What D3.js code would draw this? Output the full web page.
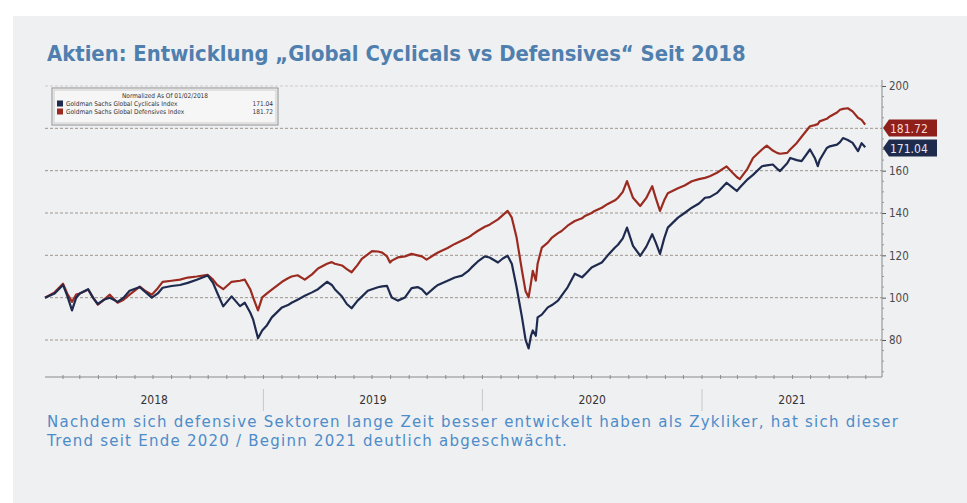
<!DOCTYPE html>
<html><head><meta charset="utf-8">
<script src="https://cdn.jsdelivr.net/npm/d3@7"></script>
<style>
html,body{margin:0;padding:0;background:#fff;}
svg{display:block;}
</style></head>
<body>
<svg id="chart" width="967" height="503"></svg>
<script>
const titleText = "Aktien: Entwicklung „Global Cyclicals vs Defensives“ Seit 2018";
const captionLines = [
  "Nachdem sich defensive Sektoren lange Zeit besser entwickelt haben als Zykliker, hat sich dieser",
  "Trend seit Ende 2020 / Beginn 2021 deutlich abgeschwächt."
];
const legendHeader = "Normalized As Of 01/02/2018";
const seriesNames = ["Goldman Sachs Global Cyclicals Index", "Goldman Sachs Global Defensives Index"];
const lastValues = ["171.04", "181.72"];
const gridTicks = [80, 100, 120, 140, 160, 180, 200];
const labelTicks = [80, 100, 120, 140, 160, 200];
const yearLabels = ["2018", "2019", "2020", "2021"];

const dates = [
"2018-01-02","2018-01-18","2018-02-01","2018-02-08","2018-02-16","2018-02-23","2018-03-01","2018-03-15","2018-03-23","2018-03-31",
"2018-04-10","2018-04-20","2018-05-03","2018-05-13","2018-05-23","2018-06-09","2018-06-19","2018-06-29","2018-07-09","2018-07-17",
"2018-08-01","2018-08-15","2018-08-28","2018-09-12","2018-09-30","2018-10-09","2018-10-16","2018-10-26","2018-11-09","2018-11-23",
"2018-12-01","2018-12-10","2018-12-15","2018-12-23","2018-12-30","2019-01-07","2019-01-15","2019-02-01","2019-02-11","2019-02-17",
"2019-02-27","2019-03-11","2019-03-23","2019-04-02","2019-04-17","2019-04-25","2019-04-30","2019-05-12","2019-05-20","2019-05-28",
"2019-06-07","2019-06-14","2019-06-24","2019-07-01","2019-07-11","2019-07-18","2019-07-26","2019-07-31","2019-08-03","2019-08-13",
"2019-08-25","2019-09-05","2019-09-15","2019-09-22","2019-09-30","2019-10-14","2019-10-19","2019-11-04","2019-11-16","2019-11-28",
"2019-12-08","2019-12-14","2019-12-24","2020-01-05","2020-01-13","2020-01-27","2020-02-04","2020-02-12","2020-02-19","2020-02-27",
"2020-03-07","2020-03-13","2020-03-18","2020-03-22","2020-03-25","2020-03-30","2020-04-02","2020-04-09","2020-04-19","2020-04-26",
"2020-05-06","2020-05-12","2020-05-22","2020-06-03","2020-06-15","2020-06-20","2020-07-01","2020-07-06","2020-07-18","2020-07-28",
"2020-08-09","2020-08-14","2020-08-22","2020-08-29","2020-09-08","2020-09-20","2020-09-30","2020-10-10","2020-10-16","2020-10-23",
"2020-10-30","2020-11-05","2020-11-22","2020-12-03","2020-12-15","2020-12-27","2021-01-06","2021-01-14","2021-01-26","2021-02-11",
"2021-02-21","2021-02-28","2021-03-05","2021-03-18","2021-03-27","2021-04-11","2021-04-19","2021-04-29","2021-05-06","2021-05-11",
"2021-05-23","2021-05-28","2021-06-08","2021-06-16","2021-06-30","2021-07-08","2021-07-13","2021-07-16","2021-07-28","2021-08-02",
"2021-08-14","2021-08-19","2021-08-24","2021-09-01","2021-09-09","2021-09-18","2021-09-24","2021-09-30"
];

const cyclicals = [
100,102,106,101,94,100,102,104,100,97,
99,100,98,100,103.3,105,102.5,100,102,104.7,
105.5,106,107,108.5,110.5,107,102.3,95.9,100.6,96,
97.6,93,89.6,80.8,84.5,87,90.7,95.4,96.5,97.6,
99,100.9,102.5,104,107.5,106,104,100.5,97,95,
98.6,100.5,103.3,104,104.9,105.3,105.6,102,100.1,98.6,
100.1,104.5,105,104,101.5,105,106,108,109.5,110.4,
112.5,114.3,117,119.5,119,116.6,118.5,119.8,116,104.9,
90.7,80,76,82,84.5,82,90.7,92,95.4,96.5,
98.6,101,104.9,111.3,109.6,111,114.3,115,116.6,120,
123.7,125,128,133.1,124.5,119.8,124,130,126,120.7,
128,133.1,137.8,140,142.5,144.5,147.2,147.5,149.5,154.3,
152,150.4,152,155.9,158,162.1,162.5,162.9,161,159.8,
163.5,166,165,164.5,170,166,162.1,165,170.7,171.5,
172.3,173.5,175.4,174.5,173.1,169.2,173,171.04
];

const defensives = [
100,102.5,106.6,102,98,101.5,102,103.8,100,96.7,
99,101.4,97.6,99,101.4,105.2,103,101.4,104.5,107.5,
108,108.5,109.5,110,110.8,108.5,106,104,107.5,108,
108.5,104,100,94,100.1,102,103.8,107.5,109.2,110,
110.6,108.5,111,113.8,116,116.8,116,115.2,113.5,112,
115.5,118.3,120.5,122,121.8,121.3,119.5,116.6,117.5,119,
119.5,120.7,120,119.5,118,120.5,121.3,123.5,125.4,127,
128.4,129.5,131.5,133.5,134.5,137,139,141,137.8,128.4,
112.7,103,100.2,107,112.7,108,116,123.6,126,128.4,
130.5,131.5,134,136.2,137.5,138.6,140,141,142.5,144.3,
146,147.2,150,155.1,147.2,143.3,147,152.7,147,141,
146,149.3,151.7,153,155,156,156.6,157.4,159,162,
159,157,156,161,166,170,171.8,169.5,168.4,168,
168.4,170,173.1,176,181,181.5,182,183.3,184.5,185.6,
187.5,188.8,189.2,189.5,188,185,184,181.72
];

const W = 967, H = 503;
const svg = d3.select("#chart");
const parse = d3.timeParse("%Y-%m-%d");
const dts = dates.map(parse);

// panel
svg.append("rect").attr("x", 0).attr("y", 0).attr("width", W).attr("height", H).attr("fill", "#ffffff");
svg.append("rect").attr("x", 13).attr("y", 16).attr("width", W - 13).attr("height", H - 16).attr("fill", "#eff0f2");

// title
const title = svg.append("text").attr("x", 47).attr("y", 61)
  .attr("font-family", "'DejaVu Sans Condensed','Liberation Sans Narrow',sans-serif")
  .attr("font-weight", "bold").attr("font-size", 21).attr("fill", "#4f7fae").text(titleText);
(function fit(){ const w = title.node().getComputedTextLength(); title.attr("font-size", 21 * 699 / w); })();

// scales
const plotL = 45, plotR = 882, plotT = 80, plotB = 377;
const x = d3.scaleTime().domain([parse("2018-01-02"), parse("2021-10-28")]).range([plotL, plotR]);
const y = d3.scaleLinear().domain([80, 200]).range([340, 86]);

// gridlines
svg.append("g").selectAll("line").data(gridTicks).join("line")
  .attr("x1", plotL).attr("x2", plotR)
  .attr("y1", d => y(d)).attr("y2", d => y(d))
  .attr("stroke", d => d === 200 ? "#cfcac7" : "#a0958f")
  .attr("stroke-width", 1)
  .attr("stroke-dasharray", "3,2");

// right axis
const yAxis = d3.axisRight(y).tickValues(labelTicks).tickSize(4).tickPadding(3).tickFormat(d3.format("d"));
const ya = svg.append("g").attr("transform", `translate(${plotR},0)`).call(yAxis);
ya.select(".domain").remove();
ya.selectAll("text").attr("font-family", "'DejaVu Sans Condensed','Liberation Sans',sans-serif").attr("font-size", 11.5).attr("fill", "#4a4a4a");
ya.selectAll("line").attr("stroke", "#555");
svg.append("line").attr("x1", plotR).attr("x2", plotR).attr("y1", plotT).attr("y2", plotB).attr("stroke", "#8a8a8a");
const minor = d3.range(65, 201, 5).filter(v => v % 20 !== 0);
svg.append("g").selectAll("line").data(minor).join("line")
  .attr("x1", plotR).attr("x2", plotR + 2).attr("y1", d => y(d)).attr("y2", d => y(d)).attr("stroke", "#999");

// bottom axis
svg.append("line").attr("x1", plotL).attr("x2", plotR).attr("y1", plotB).attr("y2", plotB).attr("stroke", "#8a8a8a");
const months = d3.timeMonth.range(parse("2018-02-01"), parse("2021-10-28"));
svg.append("g").selectAll("line").data(months).join("line")
  .attr("x1", d => x(d)).attr("x2", d => x(d)).attr("y1", plotB - 2).attr("y2", plotB + 2).attr("stroke", "#8a8a8a");

// year separators and labels
const yearStarts = yearLabels.map(yr => parse(yr + "-01-01"));
svg.append("g").selectAll("line").data(yearStarts.slice(1)).join("line")
  .attr("x1", d => x(d)).attr("x2", d => x(d)).attr("y1", 389).attr("y2", 411).attr("stroke", "#c8c8c8");
svg.append("g").selectAll("text").data(yearLabels).join("text")
  .attr("x", (d, i) => {
    const a = Math.max(plotL, x(yearStarts[i]));
    const b = i < yearLabels.length - 1 ? x(yearStarts[i + 1]) : plotR;
    return (a + b) / 2;
  })
  .attr("y", 404).attr("text-anchor", "middle")
  .attr("font-family", "'DejaVu Sans Condensed','Liberation Sans Narrow',sans-serif").attr("font-size", 12).attr("fill", "#333")
  .text(d => d);

// lines
const line = vals => d3.line().x((d, i) => x(dts[i])).y(d => y(d)).curve(d3.curveLinear)(vals);
svg.append("path").attr("d", line(defensives)).attr("fill", "none").attr("stroke", "#9b2b20").attr("stroke-width", 2.2).attr("stroke-linejoin", "round");
svg.append("path").attr("d", line(cyclicals)).attr("fill", "none").attr("stroke", "#1e2b4e").attr("stroke-width", 2.2).attr("stroke-linejoin", "round");

// value tags
const tagFill = ["#8e1f1a", "#1f2b4d"];
const tagText = [lastValues[1], lastValues[0]];
const tagY = [128, 148];
tagText.forEach((t, i) => {
  const cy = tagY[i];
  const x0 = plotR + 1, w = 54, h = 17;
  svg.append("path")
    .attr("d", `M${x0},${cy} L${x0 + 6},${cy - h / 2} L${x0 + w},${cy - h / 2} L${x0 + w},${cy + h / 2} L${x0 + 6},${cy + h / 2} Z`)
    .attr("fill", tagFill[i]);
  svg.append("text").attr("x", x0 + 7).attr("y", cy + 4.5)
    .attr("font-family", "'DejaVu Sans Condensed','Liberation Sans',sans-serif").attr("font-size", 12)
    .attr("fill", i === 0 ? "#f4d8d4" : "#e4e8f2").text(t);
});

// legend
const lg = svg.append("g");
lg.append("rect").attr("x", 52).attr("y", 88).attr("width", 226).attr("height", 37).attr("fill", "#f6f6f7").attr("stroke", "#8d8d8d").attr("stroke-width", 1);
lg.append("rect").attr("x", 54).attr("y", 90).attr("width", 222).attr("height", 33).attr("fill", "none").attr("stroke", "#c2c2c2").attr("stroke-width", 0.8);
lg.append("text").attr("x", 165).attr("y", 98).attr("text-anchor", "middle")
  .attr("font-family", "'DejaVu Sans Condensed',sans-serif").attr("font-size", 6.5).attr("fill", "#333").text(legendHeader);
const lcol = ["#1e2b4e", "#9b2b20"];
seriesNames.forEach((n, i) => {
  const yy = 106 + i * 8;
  lg.append("rect").attr("x", 57).attr("y", yy - 5.5).attr("width", 6).attr("height", 6).attr("fill", lcol[i]);
  lg.append("text").attr("x", 66).attr("y", yy).attr("font-family", "'DejaVu Sans Condensed',sans-serif").attr("font-size", 6.5).attr("fill", "#333").text(n);
  lg.append("text").attr("x", 273).attr("y", yy).attr("text-anchor", "end").attr("font-family", "'DejaVu Sans Condensed',sans-serif").attr("font-size", 6.5).attr("fill", "#333").text(lastValues[i]);
});

// caption
const cap = svg.append("g").attr("font-family", "'DejaVu Sans','Noto Sans',sans-serif").attr("font-weight", 400).attr("fill", "#4d8cc9").attr("font-size", 15);
const c1 = cap.append("text").attr("x", 47).attr("y", 427).text(captionLines[0]);
const w1 = c1.node().getComputedTextLength();
const ls = (851 - w1) / (captionLines[0].length - 1);
c1.attr("letter-spacing", ls);
cap.append("text").attr("x", 47).attr("y", 446).attr("letter-spacing", ls).text(captionLines[1]);
</script>
</body></html>
